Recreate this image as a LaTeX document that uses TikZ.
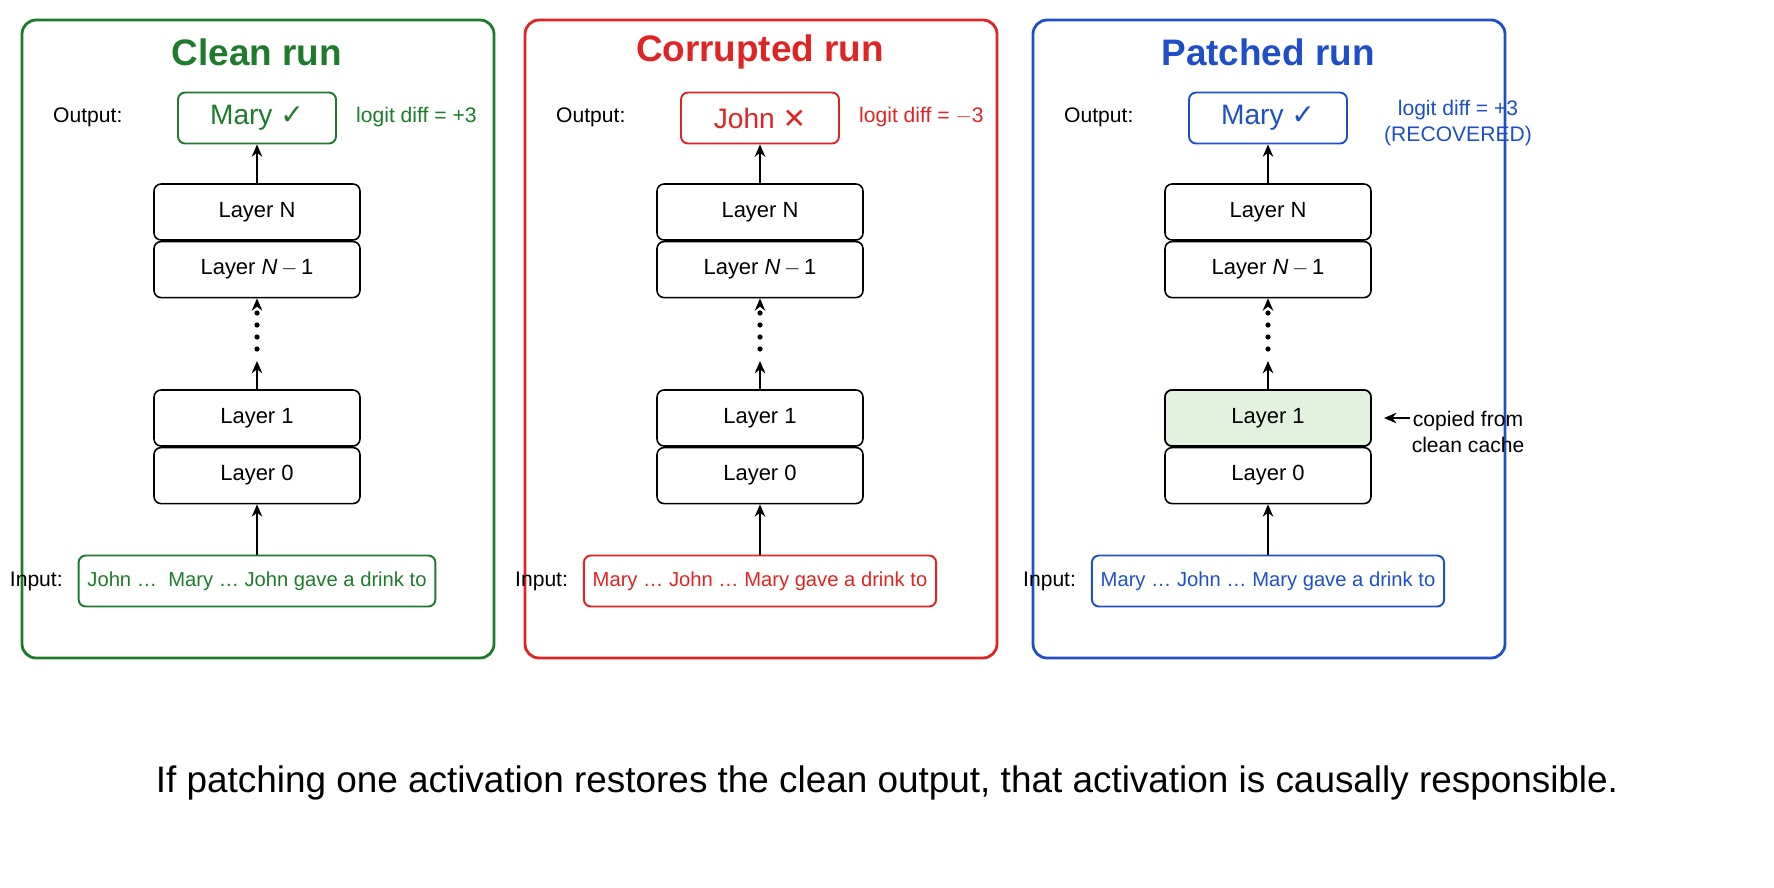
\documentclass[tikz,border=0pt]{standalone}
\usepackage{fontspec}
\setmainfont{Liberation Sans}
\newfontfamily\symfont{DejaVu Sans}
\usetikzlibrary{arrows.meta,positioning}
\definecolor{cleangreen}{HTML}{1E7A2C}
\definecolor{corrred}{HTML}{E02323}
\definecolor{patchblue}{HTML}{1F4FC8}
\definecolor{patchfill}{HTML}{E2F2DE}
\tikzset{
  panel/.style={draw=#1, line width=1.6pt, rounded corners=8pt},
  layer/.style={draw, line width=0.9pt, rounded corners=4pt, minimum width=4.12cm, minimum height=1.12cm, font=\fontsize{12.5}{15}\selectfont},
  outbox/.style={draw=#1, text=#1, line width=1.1pt, rounded corners=4pt, minimum width=3.16cm, minimum height=1.02cm, font=\fontsize{16}{19}\selectfont},
  inbox/.style={draw=#1, text=#1, line width=1.1pt, rounded corners=4pt, minimum height=1.02cm, inner xsep=5pt, font=\fontsize{11.5}{14}\selectfont},
  lbl/.style={font=\fontsize{12}{15}\selectfont},
  flow/.style={-{Stealth[length=7pt,width=6pt]}, line width=1pt}
}
\begin{document}
\begin{tikzpicture}[x=0.02cm, y=-0.02cm]
\path[use as bounding box] (0,0) rectangle (1774,887);
\begin{pgfinterruptboundingbox}
\foreach \i/\cx/\col/\ttl/\out/\mk/\inp/\diff in {
  1/257/cleangreen/Clean run/Mary/✓/{John \dots\ \ Mary \dots\ John gave a drink to}/{logit diff = +3},
  2/760/corrred/Corrupted run/John/✕/{Mary \dots\ John \dots\ Mary gave a drink to}/{logit diff = $-$3},
  3/1268/patchblue/Patched run/Mary/✓/{Mary \dots\ John \dots\ Mary gave a drink to}/{logit diff = +3\\(RECOVERED)}}
{
  \draw[panel=\col] (\cx-235,20) rectangle (\cx+237,658);
  \node[text=\col, font=\fontsize{21}{25}\selectfont\bfseries] (title\i) at (\cx,52) {\ttl};
  \node[outbox=\col] (out\i) at (\cx,118) {\out\ {\symfont\mk}};
  \node[lbl, anchor=west] (outlbl\i) at (\cx-210,117) {Output:};
  \node[lbl, text=\col, align=center, anchor=west] (diff\i) at (\ifnum\i=3 \cx+110\else \cx+93\fi,\ifnum\i=3 123\else 117\fi) {\diff};
  \node[layer] (ln\i) at (\cx,212) {Layer N};
  \node[layer, below=0pt of ln\i] (lnm\i) {Layer \textit{N}\,$-$\,1};
  \node[layer] (l1\i) at (\cx,418) {Layer 1};
  \node[layer, below=0pt of l1\i] (l0\i) {Layer 0};
  \node[inbox=\col] (inp\i) at (\cx,581) {\inp};
  \node[lbl, anchor=east] (inlbl\i) at ([xshift=-5pt]inp\i.west) {Input:};
  \foreach \y in {313,325,337,349}
    \fill (\cx,\y) circle (2.6);
  \draw[flow] (inp\i) -- (l0\i);
  \draw[flow] (l1\i) -- (\cx,361);
  \draw[flow] (\cx,302) -- (lnm\i);
  \draw[flow] (ln\i) -- (out\i);
}
\node[layer, fill=patchfill] (l1p) at (l13) {Layer 1};
\node[lbl, align=center] (copied) at (1468,432) {copied from\\clean cache};
\coordinate (cfrom) at (1410,418);
\draw[flow] (cfrom) -- ([xshift=7pt]l13.east);
\node[font=\fontsize{21}{25}\selectfont] (caption) at (887,783) {If patching one activation restores the clean output, that activation is causally responsible.};
\end{pgfinterruptboundingbox}
\end{tikzpicture}
\end{document}
